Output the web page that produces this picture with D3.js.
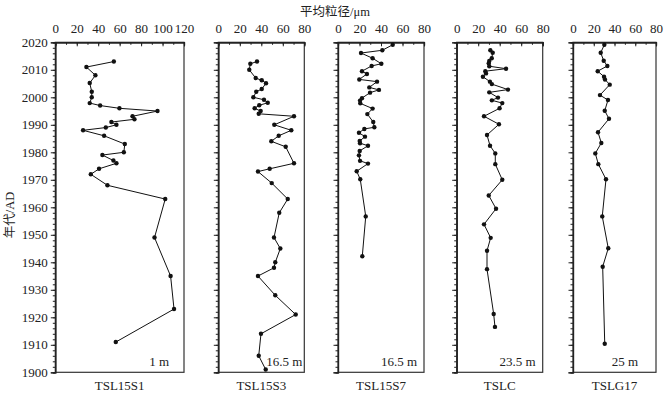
<!DOCTYPE html>
<html>
<head>
<meta charset="utf-8">
<script src="https://cdn.jsdelivr.net/npm/d3@7"></script>
<style>
  body { margin: 0; background: #fff; }
  svg { font-family: "Liberation Serif", "DejaVu Serif", serif; }
  .axis text { font-size: 13px; font-family: "Liberation Serif", serif; fill: #222; }
  .axis path, .axis line { stroke: #222; }
</style>
</head>
<body>
<script>
// core names, water depth labels
var cores = ["TSL15S1", "TSL15S3", "TSL15S7", "TSLC", "TSLG17"];
var depths = ["1 m", "16.5 m", "16.5 m", "23.5 m", "25 m"];
var xMax = [120, 80, 80, 80, 80];
var yearTicks = [1900, 1910, 1920, 1930, 1940, 1950, 1960, 1970, 1980, 1990, 2000, 2010, 2020];

// mean grain size (um) vs year
var s1Years = [2013, 2011, 2008, 2005.2, 2002, 2000, 1997.9, 1997, 1996, 1995, 1993.1, 1992, 1991, 1990, 1989, 1988, 1986, 1983, 1980, 1979, 1977, 1976, 1974, 1972, 1968, 1963, 1949, 1935, 1923, 1911];
var s1Values = [54.6, 29, 37.4, 32.1, 34, 34, 32.1, 41.8, 59.8, 95.3, 72, 73.8, 52.3, 57, 47.1, 25.9, 45.5, 64.8, 63.9, 43.9, 54.2, 57, 40.8, 33.1, 48.6, 102.5, 92.5, 107.5, 110.7, 56.4];

var s3Years = [2013, 2012.2, 2010, 2007, 2006.2, 2005.1, 2003, 2002, 2000, 1999.1, 1998, 1997.1, 1996, 1995, 1994, 1993.1, 1990, 1988, 1986, 1984, 1982, 1976, 1974, 1973, 1968.8, 1963, 1958, 1949, 1945, 1940, 1938, 1935, 1928, 1921, 1914, 1906, 1901];
var s3Values = [36, 29.8, 28.8, 34.8, 40.4, 44.4, 40.4, 35.3, 32.6, 42.5, 46, 38.1, 33.8, 39.4, 37.6, 70.4, 52.1, 67.9, 56.2, 49.3, 62.7, 70.4, 47.8, 36.9, 49.7, 64.6, 56.7, 51.8, 57.7, 53, 51.8, 36.9, 53, 72, 39.7, 37.6, 44.1];

var s7Years = [2019.1, 2017.1, 2016.1, 2014.2, 2012.2, 2011.4, 2009.5, 2008.5, 2006.5, 2005.7, 2003.6, 2002.7, 2001.7, 1999.7, 1998.8, 1997.8, 1995.9, 1993.9, 1991, 1989.1, 1988.5, 1987.1, 1985.7, 1984.1, 1983.3, 1982.4, 1980.5, 1978.9, 1976.9, 1975.9, 1973.1, 1970.2, 1956.7, 1942.2];
var s7Values = [50.9, 41.2, 21.4, 32.2, 40.3, 31.3, 22.3, 26.9, 19.8, 36.3, 29.1, 38.1, 29.8, 22.3, 20.5, 20.7, 32.2, 27.3, 32.8, 33.8, 24.5, 19.5, 25.1, 20.2, 20.5, 27.9, 20.2, 19.5, 20.5, 27.9, 17.4, 20.7, 25.8, 22.6];

var tslcYears = [2017.1, 2016.2, 2014.2, 2013.2, 2012.4, 2011.3, 2010.4, 2009.5, 2008.7, 2007.5, 2005.7, 2004.8, 2002.8, 2001.8, 1999.9, 1998.9, 1997.9, 1996, 1993.1, 1990.2, 1986.3, 1982.4, 1979.6, 1975.7, 1970, 1964.3, 1959.5, 1953.8, 1948.9, 1944.2, 1937.5, 1921.2, 1916.5];
var tslcValues = [31.3, 33.5, 32.6, 30.3, 29.8, 30.3, 45.9, 26.6, 27.3, 24.4, 30.9, 32.7, 47.7, 30.3, 38.4, 32.7, 42.4, 39.9, 25.4, 39.3, 28.2, 31, 35.9, 35.9, 42.4, 29.8, 36.6, 25.4, 31.6, 28.2, 28.2, 34.4, 35.6];

var g17Years = [2019.1, 2016.2, 2013.3, 2011.4, 2009.5, 2007.5, 2006.5, 2004.6, 2000.8, 1999, 1995.1, 1992.2, 1987.3, 1983.4, 1979.6, 1975.7, 1970.2, 1956.7, 1945.1, 1938.4, 1910.4];
var g17Values = [30.2, 26.7, 29.6, 33.1, 23.8, 29.9, 30.8, 35.4, 26, 33.7, 30.6, 34.7, 24.1, 27.3, 21.5, 24.4, 31.8, 28.2, 34, 28.6, 30.6];

var allYears = [s1Years, s3Years, s7Years, tslcYears, g17Years];
var allValues = [s1Values, s3Values, s7Values, tslcValues, g17Values];

// panel layout (pixels)
var panelX = [[55.3, 184], [218.3, 304.3], [338, 424], [456.7, 542.7], [573, 656]];
var depthOffset = [15, 2, 7, 7, 18];
var plotTop = 42.3, plotBottom = 372.3;

var svg = d3.select("body").append("svg")
  .attr("width", 672).attr("height", 399);

var y = d3.scaleLinear().domain([1900, 2020]).range([plotBottom, plotTop]);

svg.append("text")
  .attr("x", 335).attr("y", 16)
  .attr("text-anchor", "middle")
  .attr("font-size", "12.5px")
  .attr("font-family", "'Liberation Serif', 'Noto Sans CJK SC', serif")
  .attr("fill", "#222")
  .text("平均粒径/μm");

svg.append("text")
  .attr("transform", "translate(14," + 215 + ") rotate(-90)")
  .attr("text-anchor", "middle")
  .attr("font-size", "12.5px")
  .attr("font-family", "'Liberation Serif', 'Noto Sans CJK SC', serif")
  .attr("fill", "#222")
  .text("年代/AD");

cores.forEach(function(name, i) {
  var x = d3.scaleLinear().domain([0, xMax[i]]).range(panelX[i]);
  var g = svg.append("g");
  var left = panelX[i][0], right = panelX[i][1];

  // frame
  g.append("rect")
    .attr("x", left).attr("y", plotTop)
    .attr("width", right - left).attr("height", plotBottom - plotTop)
    .attr("fill", "none").attr("stroke", "#333").attr("stroke-width", 1.2);

  // top axis
  g.append("g").attr("class", "axis")
    .attr("transform", "translate(0," + plotTop + ")")
    .call(d3.axisTop(x).tickValues(d3.range(0, xMax[i] + 1, 10)).tickFormat("").tickSize(-2.5));
  g.append("g").attr("class", "axis")
    .attr("transform", "translate(0," + plotTop + ")")
    .call(d3.axisTop(x).tickValues(d3.range(0, xMax[i] + 1, 20)).tickSize(-4).tickPadding(9));

  // left axis
  g.append("g").attr("class", "axis")
    .attr("transform", "translate(" + left + ",0)")
    .call(d3.axisLeft(y).tickValues(d3.range(1900, 2021, 2)).tickFormat("").tickSize(2.5));
  g.append("g").attr("class", "axis")
    .attr("transform", "translate(" + left + ",0)")
    .call(d3.axisLeft(y).tickValues(yearTicks).tickSize(4.5).tickPadding(3)
      .tickFormat(i === 0 ? d3.format("d") : ""));

  g.selectAll(".domain").attr("stroke-width", 1.2);

  var pts = allYears[i].map(function(yr, j) { return {year: yr, value: allValues[i][j]}; });

  g.append("path").datum(pts)
    .attr("fill", "none").attr("stroke", "#111").attr("stroke-width", 1)
    .attr("d", d3.line().x(function(d) { return x(d.value); }).y(function(d) { return y(d.year); }));

  g.selectAll("circle").data(pts).enter().append("circle")
    .attr("cx", function(d) { return x(d.value); })
    .attr("cy", function(d) { return y(d.year); })
    .attr("r", 2.2)
    .attr("fill", "#111");

  g.append("text")
    .attr("x", right - depthOffset[i]).attr("y", plotBottom - 6)
    .attr("text-anchor", "end")
    .attr("font-size", "13px")
    .attr("fill", "#222")
    .text(depths[i]);

  g.append("text")
    .attr("x", (left + right) / 2).attr("y", 390)
    .attr("text-anchor", "middle")
    .attr("font-size", "13px")
    .attr("fill", "#222")
    .text(name);
});
</script>
</body>
</html>
